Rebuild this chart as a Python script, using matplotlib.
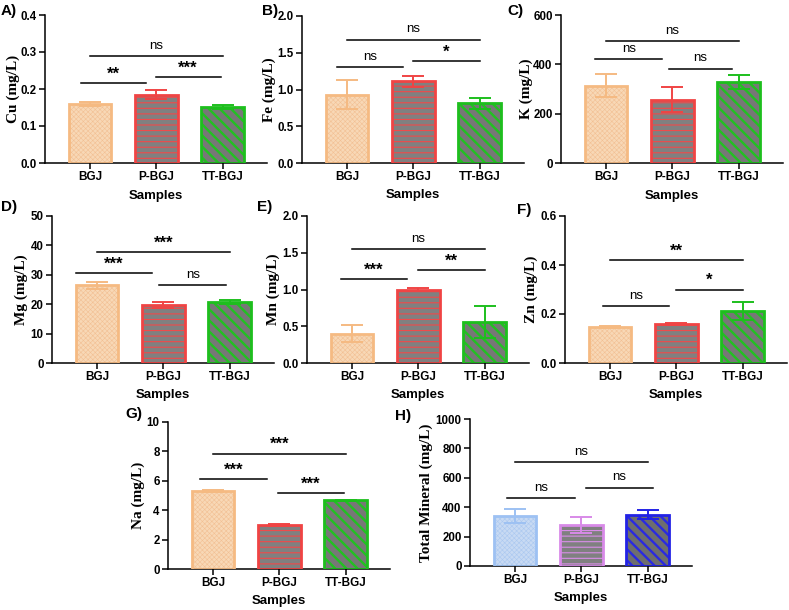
import matplotlib.pyplot as plt

groups = ['BGJ', 'P-BGJ', 'TT-BGJ']

# mean and SD
cu_mean = [0.160, 0.185, 0.151]
cu_sd = [0.006, 0.011, 0.006]
fe_mean = [0.93, 1.11, 0.81]
fe_sd = [0.20, 0.08, 0.07]
k_mean = [313, 257, 328]
k_sd = [47, 50, 28]
mg_mean = [26.4, 19.8, 20.8]
mg_sd = [1.1, 1.0, 0.7]
mn_mean = [0.40, 1.00, 0.56]
mn_sd = [0.12, 0.02, 0.22]
zn_mean = [0.147, 0.159, 0.213]
zn_sd = [0.003, 0.003, 0.038]
na_mean = [5.33, 3.00, 4.66]
na_sd = [0.06, 0.08, 0.06]
tot_mean = [343, 278, 350]
tot_sd = [48, 55, 33]

# significance brackets: (x from, x to, height, label)
cu_sig = [(-0.13, 0.85, 0.215, '**'), (0.99, 1.97, 0.233, '***'), (0, 2, 0.29, 'ns')]
fe_sig = [(-0.15, 0.85, 1.31, 'ns'), (1.0, 2.0, 1.39, '*'), (0, 2, 1.68, 'ns')]
k_sig = [(-0.16, 0.85, 420, 'ns'), (0.95, 1.9, 383, 'ns'), (0, 2, 495, 'ns')]
mg_sig = [(-0.32, 0.83, 30.5, '***'), (0.94, 1.95, 26.6, 'ns'), (0, 2, 37.7, '***')]
mn_sig = [(-0.17, 0.83, 1.145, '***'), (1.0, 2.0, 1.27, '**'), (0, 2, 1.55, 'ns')]
zn_sig = [(-0.11, 0.89, 0.231, 'ns'), (1.0, 2.0, 0.30, '*'), (0, 2, 0.419, '**')]
na_sig = [(-0.2, 0.82, 6.1, '***'), (0.98, 1.98, 5.18, '***'), (0, 2, 7.85, '***')]
tot_sig = [(-0.12, 0.9, 461, 'ns'), (1.07, 2.08, 534, 'ns'), (0, 2, 705, 'ns')]

# (face, hatch colour, edge, hatch, hatch width)
style_main = [('#F8D8B6', '#F2C094', '#F5BA82', 'xxxxxxx', 0.4),
              ('#808080', '#F04A4A', '#F04444', '---', 0.8),
              ('#777777', '#22C022', '#1DBF1D', '\\\\\\', 1.7)]
style_total = [('#C8DAF3', '#ABC8F0', '#9DC1F3', 'xxxxxxx', 0.4),
               ('#808080', '#D98EE8', '#D88AE8', '---', 0.8),
               ('#6E6E6E', '#2A2AE0', '#2222E6', '\\\\\\', 1.7)]

W, H = 789, 610
fig = plt.figure(figsize=(W / 100, H / 100), dpi=100)


def make_ax(left, top, bottom, width=222):
    return fig.add_axes([left / W, (H - bottom) / H, width / W, (bottom - top) / H])


def bar_hatched(ax, x, h, face, hcol, edge, hatch, hlw):
    ax.bar(x, h, width=0.64, color=face, linewidth=0, zorder=1)
    with plt.rc_context({'hatch.linewidth': hlw}):
        b = ax.bar(x, h, width=0.64, color='none', edgecolor=hcol, hatch=hatch,
                   linewidth=0, zorder=2)
    for p in b:
        if hasattr(p, 'set_hatch_linewidth'):
            p.set_hatch_linewidth(hlw)
    ax.bar(x, h, width=0.64, color='none', edgecolor=edge, linewidth=2.0, zorder=3)


def panel(ax, means, sds, ylabel, ymax, step, fmt, sig, styles, ylab_dx, tag, tag_xy):
    for i in range(3):
        face, hcol, edge, hatch, hlw = styles[i]
        bar_hatched(ax, i, means[i], face, hcol, edge, hatch, hlw)
        ax.errorbar(i, means[i], yerr=sds[i], color=edge, capsize=8, elinewidth=1.4,
                    capthick=1.4, zorder=4)
    ax.set_xlim(-0.68, 2.67)
    ax.set_ylim(0, ymax)
    ticks = [k * step for k in range(int(round(ymax / step)) + 1)]
    ax.set_yticks(ticks)
    ax.set_yticklabels([fmt.format(t) for t in ticks], fontweight='bold',
                       family='Liberation Sans', fontsize=8.3)
    ax.set_xticks(range(3))
    ax.set_xticklabels(groups, fontweight='bold', family='Liberation Sans', fontsize=8.5)
    ax.set_xlabel('Samples', fontweight='bold', family='Liberation Sans', fontsize=9.5)
    ax.xaxis.set_label_coords(0.5, -0.18)
    ax.set_ylabel(ylabel, fontweight='bold', family='Liberation Serif', fontsize=11)
    ax.yaxis.label.set_va('center')
    ax.yaxis.set_label_coords(ylab_dx / 222, 0.5)
    for s in ['top', 'right']:
        ax.spines[s].set_visible(False)
    for s in ['left', 'bottom']:
        ax.spines[s].set_linewidth(1.1)
    ax.tick_params(width=1.1, length=4, pad=2)
    for x1, x2, y, txt in sig:
        ax.plot([x1, x2], [y, y], color='black', lw=1.1, zorder=5)
        star = txt != 'ns'
        ax.annotate(txt, ((x1 + x2) / 2, y), xytext=(0, 1 if star else 3),
                    textcoords='offset points', ha='center', va='bottom',
                    fontsize=12 if star else 9.5, family='Liberation Sans',
                    fontweight='bold' if star else 'normal')
    fig.text(tag_xy[0] / W, 1 - tag_xy[1] / H, tag, fontweight='bold',
             family='Liberation Sans', fontsize=11, va='center', ha='left')


axA = make_ax(45, 15, 163)
axB = make_ax(302, 16, 163)
axC = make_ax(561, 15, 163)
axD = make_ax(52, 216, 363)
axE = make_ax(307, 216, 363)
axF = make_ax(565, 216, 363)
axG = make_ax(168, 422, 569)
axH = make_ax(470, 419, 566)

panel(axA, cu_mean, cu_sd, 'Cu (mg/L)', 0.4, 0.1, '{:.1f}', cu_sig, style_main, -32, 'A)', (1, 11))
panel(axB, fe_mean, fe_sd, 'Fe (mg/L)', 2.0, 0.5, '{:.1f}', fe_sig, style_main, -33, 'B)', (262, 11))
panel(axC, k_mean, k_sd, 'K (mg/L)', 600, 200, '{:.0f}', k_sig, style_main, -35, 'C)', (507, 11))
panel(axD, mg_mean, mg_sd, 'Mg (mg/L)', 50, 10, '{:.0f}', mg_sig, style_main, -31, 'D)', (1, 207))
panel(axE, mn_mean, mn_sd, 'Mn (mg/L)', 2.0, 0.5, '{:.1f}', mn_sig, style_main, -34, 'E)', (257, 207))
panel(axF, zn_mean, zn_sd, 'Zn (mg/L)', 0.6, 0.2, '{:.1f}', zn_sig, style_main, -34, 'F)', (517, 210))
panel(axG, na_mean, na_sd, 'Na (mg/L)', 10, 2, '{:.0f}', na_sig, style_main, -30, 'G)', (125, 414))
panel(axH, tot_mean, tot_sd, 'Total Mineral (mg/L)', 1000, 200, '{:.0f}', tot_sig, style_total, -44, 'H)', (395, 416))

fig.savefig('out.png', dpi=100)
